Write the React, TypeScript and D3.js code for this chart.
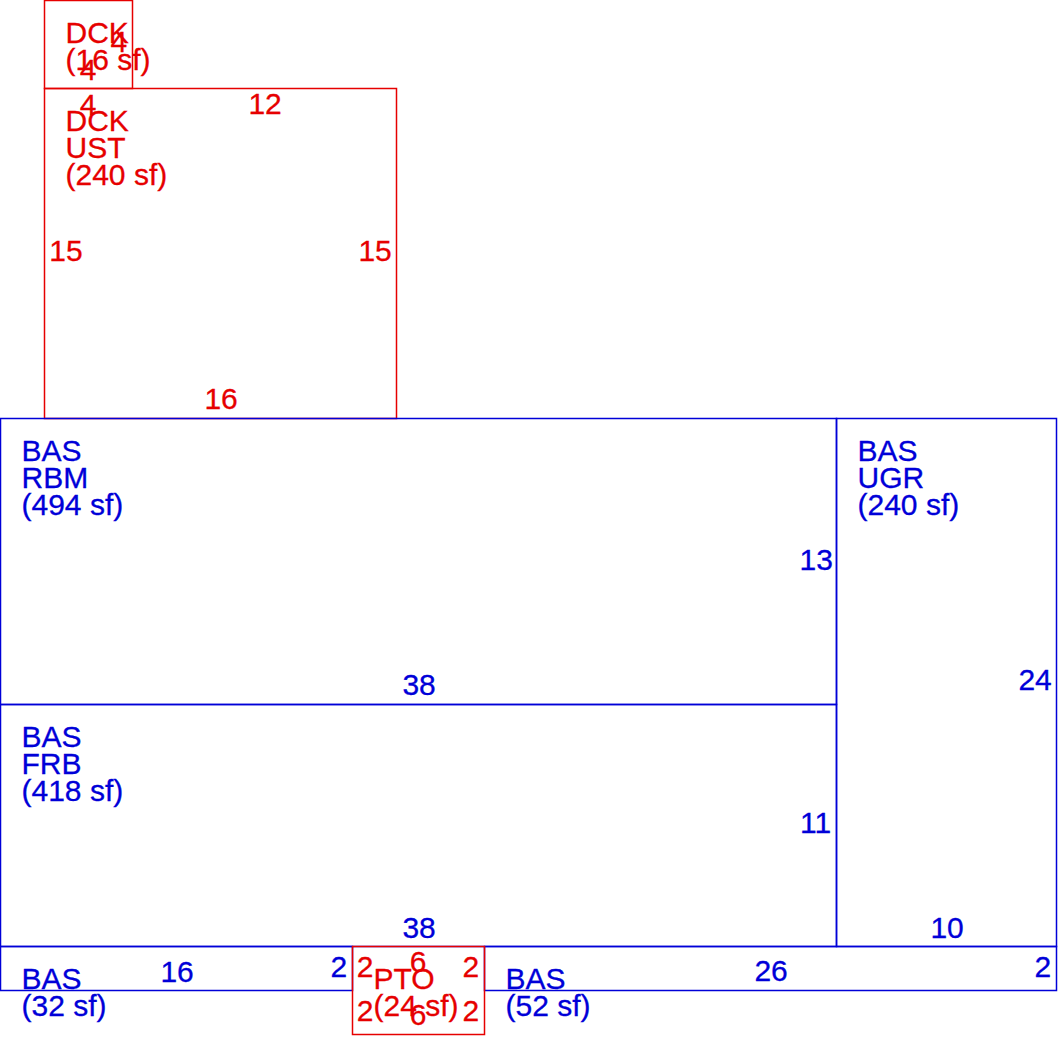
import * as d3 from "d3";
import * as React from "react";

type Area = { name: string[]; x: number; y: number; w: number; h: number; color: string };
type Dim = { label: string; x: number; y: number; color: string };

const BLUE = "#0000d8";
const RED = "#e60000";

// sketch units are feet, origin at the top left of the drawing
const areas: Area[] = [
  { name: ["DCK", "(16 sf)"], x: 2, y: 0, w: 4, h: 4, color: RED },
  { name: ["DCK", "UST", "(240 sf)"], x: 2, y: 4, w: 16, h: 15, color: RED },
  { name: ["BAS", "RBM", "(494 sf)"], x: 0, y: 19, w: 38, h: 13, color: BLUE },
  { name: ["BAS", "UGR", "(240 sf)"], x: 38, y: 19, w: 10, h: 24, color: BLUE },
  { name: ["BAS", "FRB", "(418 sf)"], x: 0, y: 32, w: 38, h: 11, color: BLUE },
  { name: ["BAS", "(32 sf)"], x: 0, y: 43, w: 16, h: 2, color: BLUE },
  { name: ["BAS", "(52 sf)"], x: 22, y: 43, w: 26, h: 2, color: BLUE },
  { name: ["PTO", "(24 sf)"], x: 16, y: 43, w: 6, h: 4, color: RED },
];

const dims: Dim[] = [
  { label: "4", x: 5.4, y: 2.37, color: RED },
  { label: "4", x: 4, y: 3.63, color: RED },
  { label: "4", x: 4, y: 5.22, color: RED },
  { label: "12", x: 12.05, y: 5.2, color: RED },
  { label: "15", x: 3, y: 11.85, color: RED },
  { label: "15", x: 17.05, y: 11.85, color: RED },
  { label: "16", x: 10.05, y: 18.6, color: RED },
  { label: "13", x: 37.1, y: 25.9, color: BLUE },
  { label: "38", x: 19.05, y: 31.6, color: BLUE },
  { label: "24", x: 47.05, y: 31.38, color: BLUE },
  { label: "11", x: 37.07, y: 37.88, color: BLUE },
  { label: "38", x: 19.05, y: 42.65, color: BLUE },
  { label: "10", x: 43.05, y: 42.65, color: BLUE },
  { label: "16", x: 8.05, y: 44.63, color: BLUE },
  { label: "2", x: 15.4, y: 44.4, color: BLUE },
  { label: "26", x: 35.05, y: 44.6, color: BLUE },
  { label: "2", x: 47.4, y: 44.4, color: BLUE },
  { label: "2", x: 16.6, y: 44.4, color: RED },
  { label: "6", x: 19, y: 44.18, color: RED },
  { label: "2", x: 21.4, y: 44.4, color: RED },
  { label: "2", x: 16.6, y: 46.4, color: RED },
  { label: "6", x: 19, y: 46.6, color: RED },
  { label: "2", x: 21.4, y: 46.4, color: RED },
];

const x = d3.scaleLinear().domain([0, 48]).range([0, 1056]);
const y = d3.scaleLinear().domain([0, 47]).range([0, 1034]);

const font = "Liberation Sans, Arial, sans-serif";
const lineHeight = 27;

export default function App() {
  return (
    <svg
      width={1058}
      height={1037}
      style={{ position: "absolute", left: 0, top: 0, background: "#fff" }}
      fontFamily={font}
      fontSize={30}
    >
      {areas.map((a, i) => (
        <g key={i} fill={a.color}>
          <rect
            x={x(a.x) + 0.5}
            y={y(a.y) + 0.5}
            width={x(a.w)}
            height={y(a.h)}
            fill="none"
            stroke={a.color}
            strokeWidth={1.5}
          />
          {a.name.map((t, j) => (
            <text
              key={j}
              x={x(a.x) + 21.5}
              y={y(a.y) + 42.7 + j * lineHeight}
              stroke={a.color}
              strokeWidth={0.3}
            >
              {t}
            </text>
          ))}
        </g>
      ))}
      {dims.map((d, i) => (
        <text
          key={i}
          x={x(d.x)}
          y={y(d.y)}
          fill={d.color}
          stroke={d.color}
          strokeWidth={0.3}
          textAnchor="middle"
        >
          {d.label}
        </text>
      ))}
    </svg>
  );
}
